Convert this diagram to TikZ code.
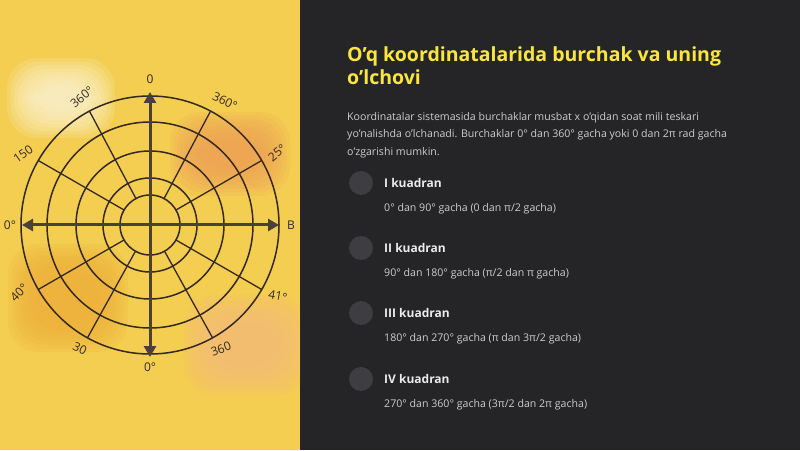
\documentclass[tikz,border=0pt]{standalone}
\usepackage{fontspec}
\setmainfont{Open Sans}
\usetikzlibrary{arrows.meta}
\definecolor{panelyellow}{RGB}{243,206,80}
\definecolor{paneldark}{RGB}{37,37,40}
\definecolor{blobcream}{RGB}{253,245,215}
\definecolor{blobtangerine}{RGB}{238,160,88}
\definecolor{blobamber}{RGB}{238,176,58}
\definecolor{blobpeach}{RGB}{244,188,122}
\definecolor{ringbrown}{RGB}{52,41,32}
\definecolor{axisgray}{RGB}{74,63,58}
\definecolor{titleyellow}{RGB}{250,230,60}
\definecolor{bodygray}{RGB}{205,205,205}
\definecolor{bulletgray}{RGB}{62,62,66}

\begin{document}
\begin{tikzpicture}[x=1pt,y=1pt,
  ring/.style={draw=ringbrown, line width=1.5pt},
  spoke/.style={draw=ringbrown, line width=1.3pt},
  axisarrow/.style={draw=axisgray, line width=3pt,
    {Triangle[length=11pt,width=12pt]}-{Triangle[length=11pt,width=12pt]}},
  anglelabel/.style={text=ringbrown, inner sep=0pt, font=\fontsize{12}{14}\selectfont},
  titletext/.style={text=titleyellow, inner sep=0pt, anchor=base west, font=\fontsize{19.5}{23}\selectfont\bfseries},
  bodytext/.style={text=bodygray, inner sep=0pt, anchor=base west, font=\fontsize{10.6}{14}\selectfont},
  quadhead/.style={text=white!92!black, inner sep=0pt, anchor=base west, font=\fontsize{12}{14}\selectfont\bfseries},
  quadsub/.style={text=bodygray, inner sep=0pt, anchor=base west, font=\fontsize{10.6}{14}\selectfont},
  bullet/.style={circle, fill=bulletgray, minimum size=24pt, inner sep=0pt}]
\useasboundingbox (0,0) rectangle (800,450);
% Panels
\fill[panelyellow] (0,0) rectangle (300,450);
\fill[paneldark] (300,0) rectangle (800,450);
% Soft blobs
\begin{scope}
\clip (0,0) rectangle (300,450);
\foreach \cx/\cy/\rx/\ry/\col in {61/352/54/40/blobcream, 230/296/60/42/blobtangerine,
    68/152/60/54/blobamber, 246/105/62/50/blobpeach} {
  \foreach \k in {0,...,8} {
    \fill[\col, opacity=0.17, rounded corners=30pt]
      (\cx-\rx+\k*3.5,\cy-\ry+\k*3.5) rectangle (\cx+\rx-\k*3.5,\cy+\ry-\k*3.5);
  }
}
\end{scope}
% Polar grid
\begin{scope}[shift={(150,225)}]
\foreach \r in {30,47,74,103,129} {
  \draw[ring] (0,0) circle (\r);
}
\foreach \a in {30,62,118,150,210,241,299,330} {
  \draw[spoke] (\a:30) -- (\a:129);
}
% Axes
\coordinate (xleft) at (-128,0);
\coordinate (xright) at (129,0);
\coordinate (ytop) at (0,133);
\coordinate (ybottom) at (0,-132);
\draw[axisarrow] (xleft) -- (xright);
\draw[axisarrow] (ybottom) -- (ytop);
% Angle labels
\foreach \px/\py/\rot/\txt [count=\n] in {0/146/0/0, -68/128/40/360°, 75/124/-25/360°,
    127/72/40/25°, -127/71/35/150, -140/0/0/0°, 141/0/0/B, -131/-68/45/40°,
    128/-71/-10/41°, -70/-124/-25/30, 71/-124/20/360, 0/-142/0/0°} {
  \node[anglelabel, rotate=\rot] (ang\n) at (\px,\py) {\txt};
}
\end{scope}
% Title and intro
\node[titletext] (title1) at (347,388) {O'q koordinatalarida burchak va uning};
\node[titletext] (title2) at (347,365) {o'lchovi};
\node[bodytext] (intro1) at (347,329.5) {Koordinatalar sistemasida burchaklar musbat x o'qidan soat mili teskari};
\node[bodytext] (intro2) at (347,312) {yo'nalishda o'lchanadi. Burchaklar 0° dan 360° gacha yoki 0 dan 2π rad gacha};
\node[bodytext] (intro3) at (347,294.5) {o'zgarishi mumkin.};
% Quadrants
\foreach \y/\head/\sub [count=\n] in {267/I kuadran/{0° dan 90° gacha (0 dan π/2 gacha)},
    202/II kuadran/{90° dan 180° gacha (π/2 dan π gacha)},
    137/III kuadran/{180° dan 270° gacha (π dan 3π/2 gacha)},
    71/IV kuadran/{270° dan 360° gacha (3π/2 dan 2π gacha)}} {
  \node[bullet] (dot\n) at (361,\y) {};
  \node[quadhead] (head\n) at (384,\y-4.5) {\head};
  \node[quadsub] (sub\n) at (384,\y-28.5) {\sub};
}
\end{tikzpicture}
\end{document}
